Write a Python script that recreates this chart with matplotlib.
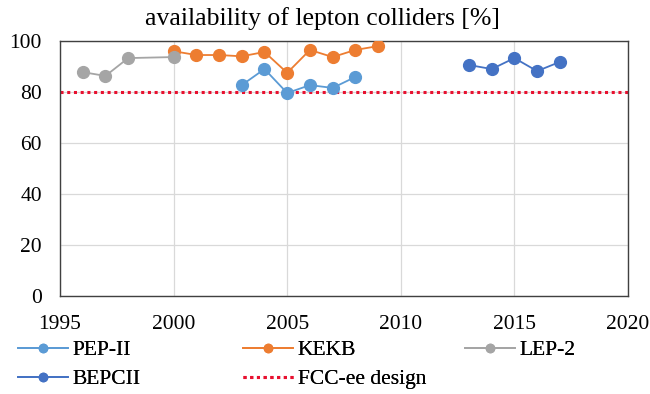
import matplotlib
matplotlib.use("Agg")
import matplotlib.pyplot as plt

plt.rcParams['font.family'] = ['Liberation Serif', 'DejaVu Serif']

lep2_years = [1996, 1997, 1998, 2000]
lep2_vals = [87.8, 86.3, 93.3, 93.7]

kekb_years = [2000, 2001, 2002, 2003, 2004, 2005, 2006, 2007, 2008, 2009]
kekb_vals = [96.0, 94.5, 94.5, 94.0, 95.7, 87.5, 96.5, 93.7, 96.5, 98.0]

pep2_years = [2003, 2004, 2005, 2006, 2007, 2008]
pep2_vals = [82.7, 89.0, 79.6, 82.7, 81.6, 85.9]

bepc_years = [2013, 2014, 2015, 2016, 2017]
bepc_vals = [90.6, 89.0, 93.3, 88.2, 91.8]

fcc_years = [1995, 2020]
fcc_vals = [80, 80]

x_ticks = [1995, 2000, 2005, 2010, 2015, 2020]
y_ticks = [0, 20, 40, 60, 80, 100]

fig = plt.figure(figsize=(6.5, 3.94), dpi=100)
ax = fig.add_axes([60/650, 1 - 296/394, 568/650, 255/394])

ms = 8.5
lw = 1.3
h_pep, = ax.plot(pep2_years, pep2_vals, color='#5B9BD5', marker='o', ms=ms, lw=lw, label='PEP-II', zorder=3)
h_kek, = ax.plot(kekb_years, kekb_vals, color='#ED7D31', marker='o', ms=ms, lw=lw, label='KEKB', zorder=3)
h_lep, = ax.plot(lep2_years, lep2_vals, color='#A5A5A5', marker='o', ms=ms, lw=lw, label='LEP-2', zorder=3)
h_bep, = ax.plot(bepc_years, bepc_vals, color='#4472C4', marker='o', ms=ms, lw=lw, label='BEPCII', zorder=3)
h_fcc, = ax.plot(fcc_years, fcc_vals, color='#E8102F', ls=(0, (1, 1.2)), lw=2.2, label='FCC-ee design', zorder=2)

ax.set_xlim(1995, 2020)
ax.set_ylim(0, 100)
ax.set_xticks(x_ticks)
ax.set_yticks(y_ticks)
ax.tick_params(axis='x', length=0, labelsize=15.5, pad=14)
ax.tick_params(axis='y', length=0, labelsize=15.5, pad=13)
ax.grid(True, color='#D9D9D9', lw=0.9)
ax.set_axisbelow(True)
for s in ax.spines.values():
    s.set_color('#404040')
    s.set_linewidth(1.0)

fig.text(322/650, 1 - 25/394, 'availability of lepton colliders [%]',
         ha='center', va='baseline', fontsize=18.5)

# Legend laid out in equal-width columns below the plot
columns = [([h_pep, h_bep], 18), ([h_kek, h_fcc], 243), ([h_lep], 465)]
for handles, x0 in columns:
    leg = fig.legend(handles=handles, loc='upper left',
                     bbox_to_anchor=(x0/650, 1 - 340/394), frameon=False,
                     fontsize=15.5, handlelength=2.3, handletextpad=0.25,
                     labelspacing=0.42, borderaxespad=0, borderpad=0,
                     markerscale=0.7)
    fig.add_artist(leg)

fig.savefig('out.png', dpi=100)
